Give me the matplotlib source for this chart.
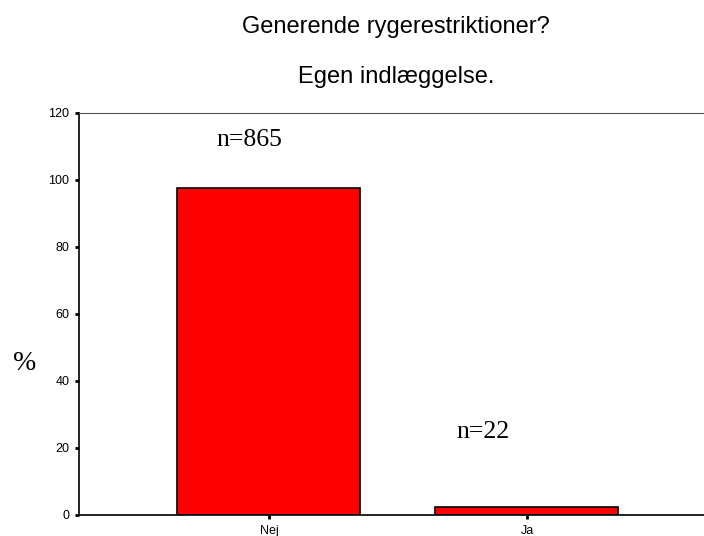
import matplotlib.pyplot as plt

# data
categories = ['Nej', 'Ja']
percent = [97.5, 2.5]
counts = [865, 22]
yticks = [0, 20, 40, 60, 80, 100, 120]

fig = plt.figure(figsize=(7.04, 5.36), dpi=100)
ax = fig.add_axes([0.1122, 0.0392, 0.8878, 0.75])

x = list(range(len(categories)))
ax.bar(x, percent, width=0.709, color='#ff0000', edgecolor='black', linewidth=1.2)

ax.set_xlim(-0.736, 1.686)
ax.set_ylim(0, 120)
ax.set_xticks(x)
ax.set_xticklabels(categories, fontsize=9, family='Liberation Sans')
ax.set_yticks(yticks)
ax.set_yticklabels([str(v) for v in yticks], fontsize=9, family='Liberation Sans')
ax.tick_params(axis='both', length=3, width=2, direction='out', pad=4)

ax.spines['right'].set_visible(False)
ax.spines['top'].set_color('#555555')
ax.spines['left'].set_linewidth(1.2)
ax.spines['bottom'].set_linewidth(1.2)

# n labels above the bars
ax.text(-0.074, 112, 'n=%d' % counts[0], fontsize=18.5, family='Liberation Serif',
        ha='center', va='center')
ax.text(0.83, 24.8, 'n=%d' % counts[1], fontsize=18.5, family='Liberation Serif',
        ha='center', va='center')

fig.text(25 / 704, 1 - 363 / 536, '%', fontsize=20, family='Liberation Serif',
         ha='center', va='center')

fig.text(396 / 704, 1 - 33.5 / 536, 'Generende rygerestriktioner?', fontsize=17,
         family='Liberation Sans', ha='center', va='baseline')
fig.text(396 / 704, 1 - 83.5 / 536, 'Egen indlæggelse.', fontsize=17,
         family='Liberation Sans', ha='center', va='baseline')

fig.savefig('out.png', dpi=100)
